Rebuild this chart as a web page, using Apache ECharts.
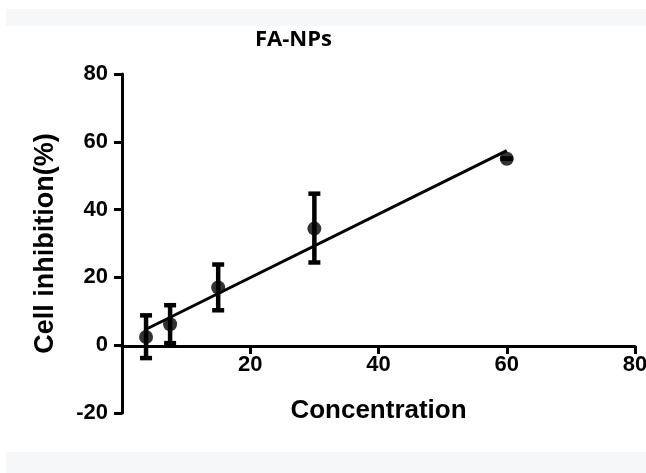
<!DOCTYPE html>
<html>
<head>
<meta charset="utf-8">
<script src="https://cdn.jsdelivr.net/npm/echarts@6/dist/echarts.min.js"></script>
<style>
  html, body { margin: 0; padding: 0; background: #fff; }
  #chart { width: 646px; height: 473px; }
</style>
</head>
<body>
<div id="chart"></div>
<script>
// concentration values and measured inhibition (%)
const concentrations = [3.75, 7.5, 15, 30, 60]
const inhibition = [2.4, 6.2, 17, 34.4, 55]
const errLow = [-3.8, 0.6, 10.3, 24.4, 55]
const errHigh = [8.8, 11.8, 23.8, 44.7, 55]

// fitted line endpoints
const fitX = [3.75, 60]
const fitY = [4.7, 57.4]

const xTicks = [0, 20, 40, 60, 80]
const yTicks = [-20, 0, 20, 40, 60, 80]

const chart = echarts.init(document.getElementById('chart'))

const axisFont = {
  fontFamily: 'Liberation Sans, Arial, sans-serif',
  fontWeight: 'bold',
  color: '#000'
}
const blackLine = { color: '#000', width: 3 }

chart.setOption({
  animation: false,
  backgroundColor: '#fff',
  graphic: [
    { type: 'rect', shape: { x: 6, y: 9, width: 640, height: 17 }, style: { fill: '#f6f7f9' } },
    { type: 'rect', shape: { x: 6, y: 452, width: 640, height: 21 }, style: { fill: '#f6f7f9' } }
  ],
  title: {
    text: 'FA-NPs',
    left: 250,
    top: 24,
    textStyle: {
      fontFamily: 'Open Sans',
      fontWeight: 'bold',
      fontSize: 22,
      color: '#000'
    }
  },
  grid: [
    // full plot area (y from -20 to 80)
    { left: 122, top: 74, width: 513, height: 339, outerBoundsMode: 'none', containLabel: false },
    // area ending at y = 0, used only to draw the x axis there
    { left: 122, top: 74, width: 513, height: 272, outerBoundsMode: 'none', containLabel: false }
  ],
  xAxis: [
    {
      gridIndex: 0,
      type: 'value',
      min: xTicks[0],
      max: xTicks[xTicks.length - 1],
      show: false
    },
    {
      gridIndex: 1,
      type: 'value',
      min: xTicks[0],
      max: xTicks[xTicks.length - 1],
      interval: 20,
      name: 'Concentration',
      nameLocation: 'middle',
      nameGap: 52,
      nameTextStyle: { ...axisFont, fontSize: 26 },
      axisLine: { show: true, onZero: false, lineStyle: blackLine },
      axisTick: { show: true, length: 8, lineStyle: blackLine },
      axisLabel: {
        ...axisFont,
        fontSize: 22,
        margin: 8,
        formatter: v => (v === 0 ? '' : v)
      },
      splitLine: { show: false }
    }
  ],
  yAxis: [
    {
      gridIndex: 0,
      type: 'value',
      min: yTicks[0],
      max: yTicks[yTicks.length - 1],
      interval: 20,
      name: 'Cell inhibition(%)',
      nameLocation: 'middle',
      nameGap: 63,
      nameTextStyle: { ...axisFont, fontSize: 27 },
      axisLine: { show: true, lineStyle: blackLine },
      axisTick: { show: true, length: 8, lineStyle: blackLine },
      axisLabel: { ...axisFont, fontSize: 22, margin: 14 },
      splitLine: { show: false }
    },
    {
      gridIndex: 1,
      type: 'value',
      min: 0,
      max: 80,
      show: false
    }
  ],
  series: [
    {
      type: 'line',
      xAxisIndex: 0,
      yAxisIndex: 0,
      data: fitX.map((x, i) => [x, fitY[i]]),
      symbol: 'none',
      lineStyle: { color: '#000', width: 3 },
      z: 2
    },
    {
      type: 'custom',
      xAxisIndex: 0,
      yAxisIndex: 0,
      data: concentrations.map((x, i) => [x, errLow[i], errHigh[i]]),
      renderItem: (params, api) => {
        const lo = api.coord([api.value(0), api.value(1)])
        const hi = api.coord([api.value(0), api.value(2)])
        const half = 6
        const style = { stroke: '#000', lineWidth: 4.5 }
        return {
          type: 'group',
          children: [
            { type: 'line', shape: { x1: lo[0], y1: lo[1], x2: hi[0], y2: hi[1] }, style },
            { type: 'line', shape: { x1: hi[0] - half, y1: hi[1], x2: hi[0] + half, y2: hi[1] }, style },
            { type: 'line', shape: { x1: lo[0] - half, y1: lo[1], x2: lo[0] + half, y2: lo[1] }, style }
          ]
        }
      },
      z: 3
    },
    {
      type: 'scatter',
      xAxisIndex: 0,
      yAxisIndex: 0,
      data: concentrations.map((x, i) => [x, inhibition[i]]),
      symbol: 'circle',
      symbolSize: 14,
      itemStyle: { color: '#000' },
      z: 4
    }
  ]
})
</script>
</body>
</html>
